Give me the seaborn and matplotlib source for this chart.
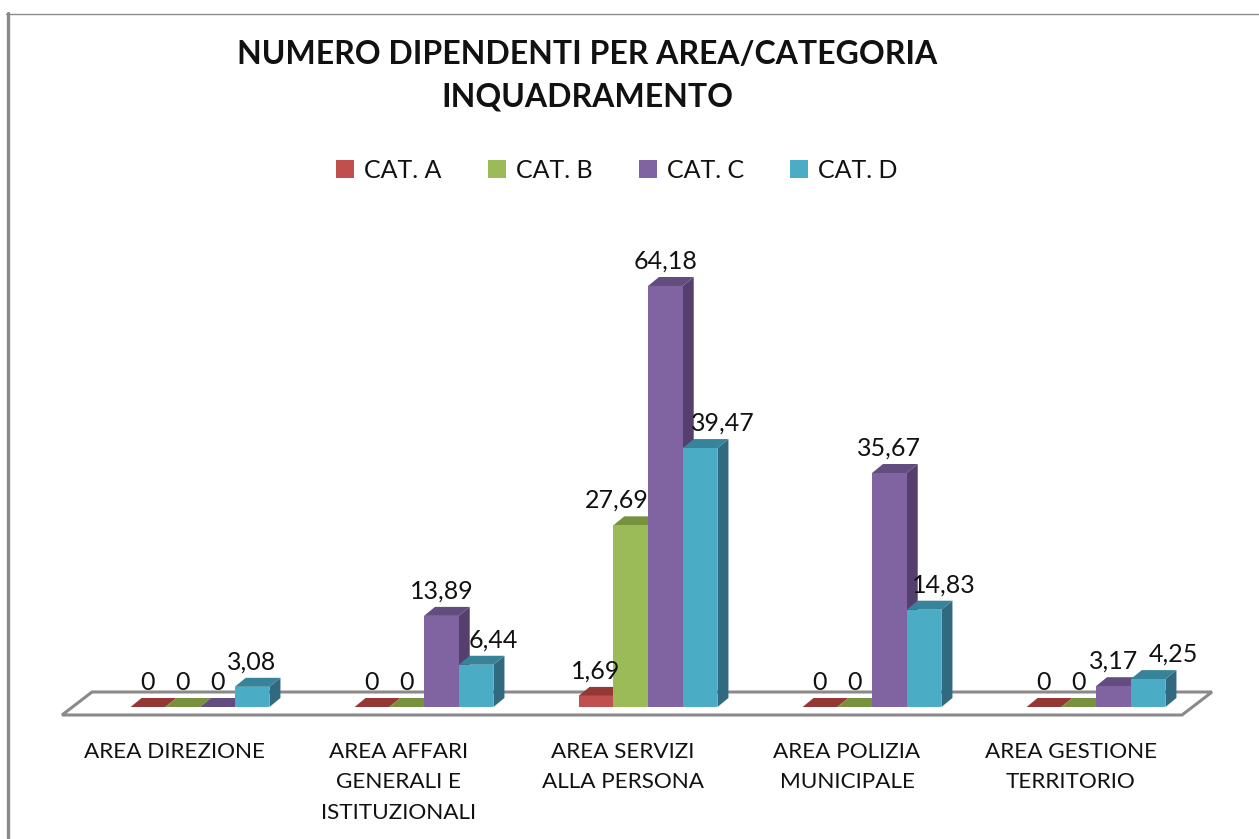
import matplotlib
matplotlib.use("Agg")
import matplotlib.pyplot as plt
import pandas as pd
import seaborn as sns
from matplotlib.lines import Line2D
from matplotlib.patches import Polygon
from matplotlib.transforms import ScaledTranslation

# chart data
areas = [
    "AREA DIREZIONE",
    "AREA AFFARI\nGENERALI E\nISTITUZIONALI",
    "AREA SERVIZI\nALLA PERSONA",
    "AREA POLIZIA\nMUNICIPALE",
    "AREA GESTIONE\nTERRITORIO",
]
cat_names = ["CAT. A", "CAT. B", "CAT. C", "CAT. D"]
cat_a = [0, 0, 1.69, 0, 0]
cat_b = [0, 0, 27.69, 0, 0]
cat_c = [0, 13.89, 64.18, 35.67, 3.17]
cat_d = [3.08, 6.44, 39.47, 14.83, 4.25]

title = "NUMERO DIPENDENTI PER AREA/CATEGORIA\nINQUADRAMENTO"

# esthetics
sns.set_theme(style="white")
plt.rcParams["font.family"] = ["Lato", "DejaVu Sans"]
text_color = "#111111"
frame_color = "#8A8A8A"
front_colors = ["#C0504D", "#9BBB59", "#8064A2", "#4BACC6"]
top_colors = ["#953735", "#76923C", "#634C80", "#37839A"]
side_colors = ["#772C2A", "#5F7530", "#553F6C", "#31697E"]

# layout, in pixels of the 1259x839 picture
W, H = 1259, 839
ax_left, ax_right, ax_top, ax_base = 88, 1208, 200, 707
px_per_unit = 6.56
depth_x, depth_y = 11, 9

df = pd.DataFrame({"Area": areas * 4,
                   "Categoria": [c for c in cat_names for _ in areas],
                   "Dipendenti": cat_a + cat_b + cat_c + cat_d})

fig = plt.figure(figsize=(W / 100, H / 100), dpi=100)
ax = fig.add_axes([ax_left / W, 1 - ax_base / H,
                   (ax_right - ax_left) / W, (ax_base - ax_top) / H])

sns.barplot(data=df, x="Area", y="Dipendenti", hue="Categoria",
            palette=front_colors, width=0.62, gap=0, saturation=1,
            linewidth=0, ax=ax)

ax.set_xlim(-0.5, 4.5)
ax.set_ylim(0, (ax_base - ax_top) / px_per_unit)
ax.set(xlabel="", ylabel="", yticks=[])
sns.despine(ax=ax, left=True, bottom=True)
ax.patch.set_alpha(0)

px_x = (ax_right - ax_left) / 5  # pixels per category


def to_x(px):
    return (px - ax_left) / px_x - 0.5


def to_y(px):
    return (ax_base - px) / px_per_unit


# floor of the 3d chart
ax.add_patch(Polygon([(to_x(62), to_y(715)), (to_x(1182), to_y(715)),
                      (to_x(1212), to_y(692)), (to_x(92), to_y(692))],
                     closed=True, facecolor="white", edgecolor=frame_color,
                     linewidth=2.2, clip_on=False, zorder=0.5,
                     joinstyle="miter"))

# top and side faces, worked out from the bars seaborn drew
dx = depth_x / px_x
dy = depth_y / px_per_unit
bars = [(rect, i // 5) for i, rect in enumerate(ax.patches)
        if isinstance(rect, matplotlib.patches.Rectangle)][:20]
bars.sort(key=lambda b: b[0].get_x())
for n, (rect, cat) in enumerate(bars):
    x0, w, h = rect.get_x(), rect.get_width(), rect.get_height()
    x1 = x0 + w
    z = 2 + n * 0.1
    rect.set_zorder(z + 0.02)
    ax.add_patch(Polygon([(x0, h), (x1, h), (x1 + dx, h + dy), (x0 + dx, h + dy)],
                         closed=True, facecolor=top_colors[cat], linewidth=0,
                         clip_on=False, zorder=z + 0.01))
    if h > 0:
        ax.add_patch(Polygon([(x1, 0), (x1 + dx, dy), (x1 + dx, h + dy), (x1, h)],
                             closed=True, facecolor=side_colors[cat], linewidth=0,
                             clip_on=False, zorder=z))

# value labels, some are pushed sideways like in the original
label_shift = {27.69: -14, 39.47: 23, 14.83: 20, 6.44: 17, 4.25: 25}
for rect, cat in bars:
    h = rect.get_height()
    label = f"{h:g}".replace(".", ",")
    ax.annotate(label, (rect.get_x() + rect.get_width() / 2, h),
                xytext=(label_shift.get(h, 0) * 0.72, 25 * 0.72),
                textcoords="offset points", ha="center", va="center",
                fontsize=18, color=text_color, zorder=20, annotation_clip=False)

# category labels sit under the front edge of the floor
ax.tick_params(axis="x", length=0, pad=25, labelsize=16.2, labelcolor=text_color)
shift = ScaledTranslation(-25 / 100, 0, fig.dpi_scale_trans)
for tick in ax.get_xticklabels():
    tick.set_transform(tick.get_transform() + shift)
    tick.set_linespacing(1.65)

sns.move_legend(ax, "center", bbox_to_anchor=(617 / W, 1 - 170 / H),
                bbox_transform=fig.transFigure, ncol=4, title=None,
                frameon=False, fontsize=18, handlelength=0.72, handleheight=0.72,
                handletextpad=0.4, columnspacing=1.85)
for txt in ax.get_legend().get_texts():
    txt.set_color(text_color)

fig.text(587 / W, 1 - 76 / H, title, ha="center", va="center", fontsize=23,
         fontweight="bold", color=text_color, linespacing=1.55)

# chart frame
fig.add_artist(Line2D([7.5 / W, 7.5 / W], [0, 1 - 13 / H], color=frame_color, linewidth=2.4))
fig.add_artist(Line2D([6 / W, 1], [1 - 13.5 / H, 1 - 13.5 / H], color=frame_color, linewidth=1))

fig.savefig("out.png", dpi=100, facecolor="white")
plt.close(fig)
